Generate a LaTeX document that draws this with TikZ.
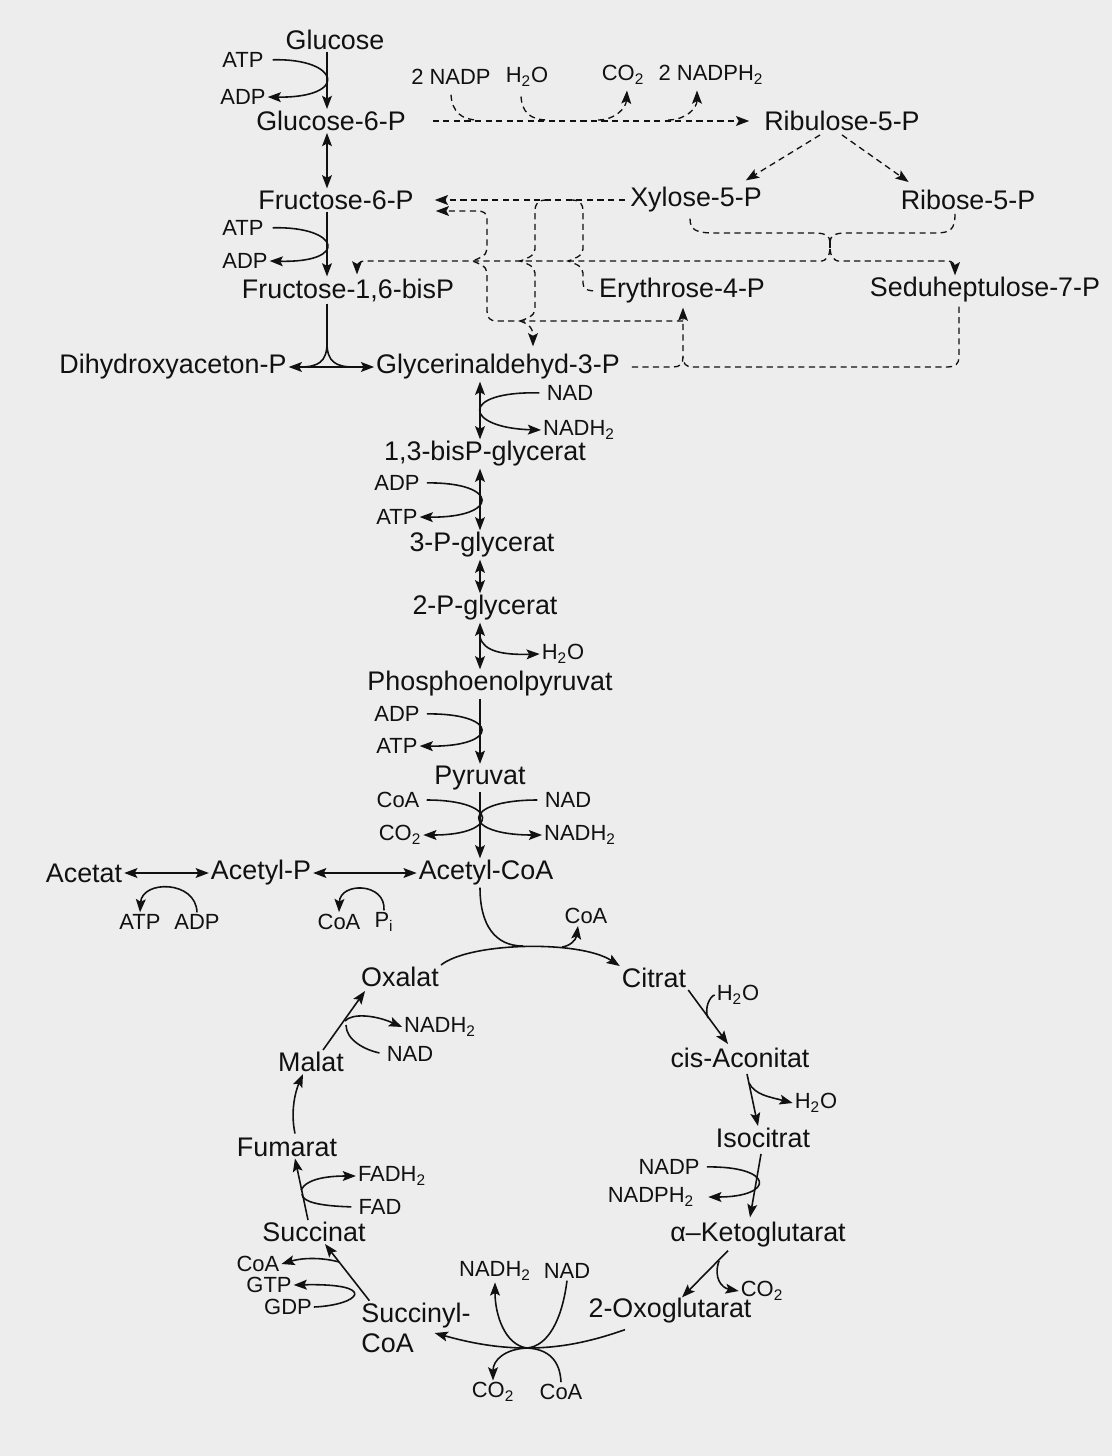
\documentclass[tikz,border=0pt]{standalone}
\usepackage{fontspec}
\setmainfont{Liberation Sans}
\usetikzlibrary{arrows.meta,calc}
\definecolor{pgPaper}{HTML}{EDEDED}
\definecolor{pgInk}{HTML}{111111}
\tikzset{
  metab/.style={font=\fontsize{15.3}{17.5}\selectfont, inner sep=1pt, text=pgInk},
  cofac/.style={font=\fontsize{12.5}{14}\selectfont, inner sep=1pt, text=pgInk},
  side/.style={line width=0.9pt, draw=pgInk},
  rxn/.style={side, -{Stealth[length=7.5pt,width=5.6pt,inset=1.5pt]}},
  revrxn/.style={side, {Stealth[length=7.5pt,width=5.6pt,inset=1.5pt]}-{Stealth[length=7.5pt,width=5.6pt,inset=1.5pt]}},
  ppp/.style={line width=0.75pt, draw=pgInk, dash pattern=on 3.5pt off 2.5pt},
  ppparr/.style={ppp, -{Stealth[length=7.5pt,width=5.6pt,inset=1.5pt]}}
}
\begin{document}
\begin{tikzpicture}[x=0.02cm, y=-0.02cm]
  \fill[pgPaper] (0,0) rectangle (1112,1456);
  \useasboundingbox (0,0) rectangle (1112,1456);
  \coordinate (axg) at (327,0);
  \coordinate (axl) at (480,0);

  % glycolysis
  \node[metab] (glc) at (335,40) {Glucose};
  \node[metab] (g6p) at (331,121) {Glucose-6-P};
  \node[metab] (f6p) at (336,200) {Fructose-6-P};
  \node[metab] (fbp) at (348,290) {Fructose-1,6-bisP};
  \node[metab] (dhap) at (173,367) {Dihydroxyaceton-P};
  \node[metab] (gap) at (498,367) {Glycerinaldehyd-3-P};
  \node[metab] (bpg) at (485,454) {1,3-bisP-glycerat};
  \node[metab] (pg3) at (482,545) {3-P-glycerat};
  \node[metab] (pg2) at (485,608) {2-P-glycerat};
  \node[metab] (pep) at (490,684) {Phosphoenolpyruvat};
  \node[metab] (pyr) at (480,778) {Pyruvat};
  \node[metab] (acoa) at (486,873) {Acetyl-CoA};
  \node[metab] (acetat) at (84,873) {Acetat};
  \node[metab] (acp) at (261,873) {Acetyl-P};

  % citrate cycle
  \node[metab] (oxa) at (400,977) {Oxalat};
  \node[metab] (cit) at (654,978) {Citrat};
  \node[metab] (cisac) at (740,1058) {cis-Aconitat};
  \node[metab] (isocit) at (763,1138) {Isocitrat};
  \node[metab] (akg) at (758,1235) {α–Ketoglutarat};
  \node[metab] (oxg) at (670,1311) {2-Oxoglutarat};
  \node[metab, align=left] (succoa) at (416,1328) {Succinyl-\\CoA};
  \node[metab] (succ) at (314,1232) {Succinat};
  \node[metab] (fum) at (287,1147) {Fumarat};
  \node[metab] (mal) at (311,1062) {Malat};

  % pentose phosphates
  \node[metab] (ru5p) at (842,121) {Ribulose-5-P};
  \node[metab] (xu5p) at (696,200) {Xylose-5-P};
  \node[metab] (r5p) at (968,200) {Ribose-5-P};
  \node[metab] (e4p) at (682,291) {Erythrose-4-P};
  \node[metab] (s7p) at (985,290) {Seduheptulose-7-P};

  % cofactors
  \node[cofac] (atp1) at (243,60) {ATP};
  \node[cofac] (adp1) at (243,97) {ADP};
  \node[cofac] (atp2) at (243,228) {ATP};
  \node[cofac] (adp2) at (245,261) {ADP};
  \node[cofac] (nadp2) at (451,77) {2 NADP};
  \node[cofac] (h2oa) at (527,77) {H\textsubscript{2}O};
  \node[cofac] (co2a) at (623,75) {CO\textsubscript{2}};
  \node[cofac] (nadph2a) at (711,75) {2 NADPH\textsubscript{2}};
  \node[cofac] (nad1) at (570,393) {NAD};
  \node[cofac] (nadh1) at (579,430) {NADH\textsubscript{2}};
  \node[cofac] (adp3) at (397,483) {ADP};
  \node[cofac] (atp3) at (397,517) {ATP};
  \node[cofac] (h2ob) at (563,654) {H\textsubscript{2}O};
  \node[cofac] (adp4) at (397,714) {ADP};
  \node[cofac] (atp4) at (397,746) {ATP};
  \node[cofac] (coa1) at (398,800) {CoA};
  \node[cofac] (nad2) at (568,800) {NAD};
  \node[cofac] (co2b) at (400,835) {CO\textsubscript{2}};
  \node[cofac] (nadh2) at (580,835) {NADH\textsubscript{2}};
  \node[cofac] (atp5) at (140,922) {ATP};
  \node[cofac] (adp5) at (197,922) {ADP};
  \node[cofac] (coa2) at (339,922) {CoA};
  \node[cofac] (pi) at (384,922) {P\textsubscript{i}};
  \node[cofac] (coa3) at (586,916) {CoA};
  \node[cofac] (h2oc) at (738,995) {H\textsubscript{2}O};
  \node[cofac] (h2od) at (816,1103) {H\textsubscript{2}O};
  \node[cofac] (nadp4) at (669,1167) {NADP};
  \node[cofac] (nadph4) at (651,1197) {NADPH\textsubscript{2}};
  \node[cofac] (co2c) at (762,1291) {CO\textsubscript{2}};
  \node[cofac] (nadh5) at (495,1271) {NADH\textsubscript{2}};
  \node[cofac] (nad5) at (567,1271) {NAD};
  \node[cofac] (co2d) at (493,1392) {CO\textsubscript{2}};
  \node[cofac] (coa5) at (561,1392) {CoA};
  \node[cofac] (coa4) at (258,1264) {CoA};
  \node[cofac] (gtp) at (269,1285) {GTP};
  \node[cofac] (gdp) at (288,1307) {GDP};
  \node[cofac] (fadh) at (392,1176) {FADH\textsubscript{2}};
  \node[cofac] (fad) at (380,1207) {FAD};
  \node[cofac] (nadh3) at (440,1027) {NADH\textsubscript{2}};
  \node[cofac] (nad3) at (410,1054) {NAD};

  % glycolysis steps
  \draw[rxn] (glc.south -| axg) -- (g6p.north -| axg);
  \draw[rxn, shorten <=4pt] (atp1.east) .. controls (340,58) and (350,98) .. (adp1.east);
  \draw[revrxn] (g6p.south -| axg) -- (f6p.north -| axg);
  \draw[rxn] (f6p.south -| axg) -- (fbp.north -| axg);
  \draw[rxn, shorten <=4pt] (atp2.east) .. controls (340,226) and (350,263) .. (adp2.east);
  \draw[side] (fbp.south -| axg) -- (327,343) coordinate (spl);
  \draw[side] (spl) .. controls (327,362) and (318,367) .. (300,367);
  \draw[side] (spl) .. controls (327,362) and (336,367) .. (354,367);
  \draw[revrxn] (dhap.east) -- (gap.west);
  \draw[revrxn] (gap.south -| axl) -- (bpg.north -| axl);
  \draw[rxn, shorten <=3pt] (nad1.west) .. controls (458,391) and (464,428) .. (nadh1.west);
  \draw[revrxn] (bpg.south -| axl) -- (pg3.north -| axl);
  \draw[rxn, shorten <=3pt] (adp3.east) .. controls (500,482) and (500,518) .. (atp3.east);
  \draw[revrxn] (pg3.south -| axl) -- (pg2.north -| axl);
  \draw[revrxn] (pg2.south -| axl) -- coordinate[pos=0.3] (h2oj) (pep.north -| axl);
  \draw[rxn] (h2oj) .. controls (483,652) and (505,655) .. (h2ob.west);
  \draw[rxn] (pep.south -| axl) -- (pyr.north -| axl);
  \draw[rxn, shorten <=3pt] (adp4.east) .. controls (500,713) and (500,747) .. (atp4.east);
  \draw[rxn] (pyr.south -| axl) -- (acoa.north -| axl);
  \draw[rxn, shorten <=3pt] (coa1.east) .. controls (500,800) and (500,835) .. (co2b.east);
  \draw[rxn, shorten <=3pt] (nad2.west) .. controls (460,800) and (460,835) .. (nadh2.west);

  % acetate branch
  \draw[revrxn] (acetat.east) -- (acp.west);
  \draw[revrxn] (acp.east) -- (acoa.west);
  \draw[rxn] (adp5.north) .. controls (196,880) and (142,880) .. (atp5.north);
  \draw[rxn] (pi.north) .. controls (386,882) and (340,882) .. (coa2.north);

  % citrate cycle steps
  \draw[side] (acoa.south -| axl) .. controls (480,925) and (495,946) .. (523,946);
  \draw[rxn] (oxa.north east) .. controls (470,942) and (580,940) .. (cit.north west);
  \draw[rxn] (562,947) .. controls (570,946) and (576,940) .. ($(coa3.south)+(-8,0)$);
  \draw[rxn] (cit.south east) -- ($(cisac.north)+(-12,-2)$);
  \draw[side] (h2oc.west) .. controls (710,996) and (704,1008) .. (708,1018);
  \draw[rxn] ($(cisac.south)+(7,4)$) -- ($(isocit.north)+(-5,0)$);
  \draw[rxn] (749,1083) .. controls (755,1095) and (770,1097) .. (h2od.west);
  \draw[rxn] ($(isocit.south)+(-2,4)$) -- ($(akg.north)+(-8,-3)$);
  \draw[rxn, shorten <=3pt] (nadp4.east) .. controls (775,1166) and (775,1197) .. ($(nadph4.east)+(12,0)$);
  \draw[rxn] ($(akg.south)+(-30,1)$) -- ($(oxg.north)+(12,1)$);
  \draw[rxn] (719,1261) .. controls (713,1278) and (722,1288) .. (co2c.west);
  \draw[rxn] ($(oxg.south)+(-45,4)$) .. controls (590,1342) and (560,1348) .. (527,1348) coordinate (jn)
    .. controls (490,1348) and (460,1340) .. ($(succoa.east)+(-38,5)$);
  \draw[rxn] (jn) .. controls (505,1345) and (495,1315) .. (nadh5.south);
  \draw[rxn] (jn) .. controls (505,1349) and (493,1360) .. (co2d.north);
  \draw[side] (nad5.south) .. controls (562,1320) and (548,1346) .. (jn);
  \draw[side] (coa5.north) .. controls (560,1360) and (548,1349) .. (jn);
  \draw[rxn] ($(succoa.north west)+(10,0)$) -- ($(succ.south)+(11,0)$);
  \draw[rxn] (339,1262) .. controls (325,1258) and (305,1257) .. (coa4.east);
  \draw[rxn] (gdp.east) .. controls (360,1305) and (380,1283) .. (gtp.east);
  \draw[rxn] ($(succ.north)+(-6,0)$) -- ($(fum.south)+(8,0)$);
  \draw[rxn] (301,1190) .. controls (307,1178) and (330,1176) .. (fadh.west);
  \draw[side, shorten <=3pt] (fad.west) .. controls (320,1206) and (302,1202) .. (302,1194);
  \draw[rxn] ($(fum.north)+(8,-2)$) .. controls (290,1110) and (296,1090) .. ($(mal.south)+(-8,0)$);
  \draw[rxn] ($(mal.north)+(12,0)$) -- ($(oxa.south west)+(6,2)$);
  \draw[rxn] (345,1021) .. controls (352,1013) and (375,1015) .. (nadh3.west);
  \draw[side, shorten <=3pt] (nad3.west) .. controls (365,1050) and (346,1040) .. (346,1025);

  % pentose phosphate pathway
  \draw[ppparr, shorten <=0.5cm, shorten >=0.26cm] (g6p.east) -- (ru5p.west);
  \draw[ppp] ($(nadp2.south)+(0,8)$) .. controls (452,112) and (462,120) .. (478,120);
  \draw[ppp] ($(h2oa.south)+(-6,8)$) .. controls (522,112) and (530,120) .. (548,120);
  \draw[ppparr] (598,120) .. controls (615,120) and (626,108) .. ($(co2a.south)+(4,4)$);
  \draw[ppparr] (668,120) .. controls (686,120) and (697,108) .. ($(nadph2a.south)+(-14,4)$);
  \draw[ppparr] ($(ru5p.south)+(-22,2)$) -- ($(xu5p.north east)+(-18,-5)$);
  \draw[ppparr] ($(ru5p.south)+(0,2)$) -- ($(r5p.north west)+(10,-6)$);
  \draw[ppp] ($(xu5p.south)+(-6,4)$) .. controls (690,230) and (696,233) .. (715,233)
    -- (815,233) .. controls (825,233) and (830,236) .. (830,242) coordinate (ppk);
  \draw[ppp] ($(r5p.south)+(-13,2)$) .. controls (955,230) and (950,233) .. (935,233)
    -- (845,233) .. controls (835,233) and (830,236) .. (ppk);
  \draw[ppp] (ppk) -- (830,249) coordinate (ppj);
  \draw[ppparr, rounded corners=4pt] (ppj) .. controls (830,256) and (825,261) .. (815,261)
    -- (357,261) -- ($(fbp.north)+(9,-2)$);
  \draw[ppparr, rounded corners=4pt] (ppj) .. controls (830,256) and (835,261) .. (845,261)
    -- (955,261) -- ($(s7p.north)+(-30,0)$);
  % transketolase / transaldolase
  \draw[ppparr, shorten <=2pt, shorten >=0.38cm] (xu5p.west) -- (f6p.east);
  \draw[ppp] (547,200) .. controls (538,200) and (535,203) .. (535,212) -- (535,249)
    .. controls (535,256) and (526,259) .. (520,261) .. controls (526,263) and (535,266) .. (535,273)
    -- (535,309) .. controls (535,316) and (526,319) .. (520,321);
  \draw[ppparr] (520,321) .. controls (526,323) and (533,326) .. ($(gap.north)+(35,-6)$);
  \draw[ppp] (571,200) .. controls (580,200) and (583,203) .. (583,212) -- (583,249)
    .. controls (583,256) and (574,259) .. (568,261) .. controls (574,263) and (583,266) .. (583,273)
    -- (583,283) .. controls (583,289) and (587,291) .. (e4p.west);
  \draw[ppparr] (683,321) -- (497,321) .. controls (490,321) and (487,318) .. (487,311) -- (487,273)
    .. controls (487,266) and (478,263) .. (472,261) .. controls (478,259) and (487,256) .. (487,249)
    -- (487,220) .. controls (487,213) and (484,211) .. (477,211) -- ($(f6p.east)+(20,11)$);
  \draw[ppparr] ($(gap.east)+(10,0)$) -- (673,367) .. controls (680,367) and (683,364) .. (683,357)
    -- ($(e4p.south)+(1,2)$);
  \draw[ppp] ($(s7p.south)+(-26,2)$) -- (959,357) .. controls (959,364) and (955,367) .. (948,367)
    -- (693,367) .. controls (686,367) and (683,364) .. (683,357);
\end{tikzpicture}
\end{document}
